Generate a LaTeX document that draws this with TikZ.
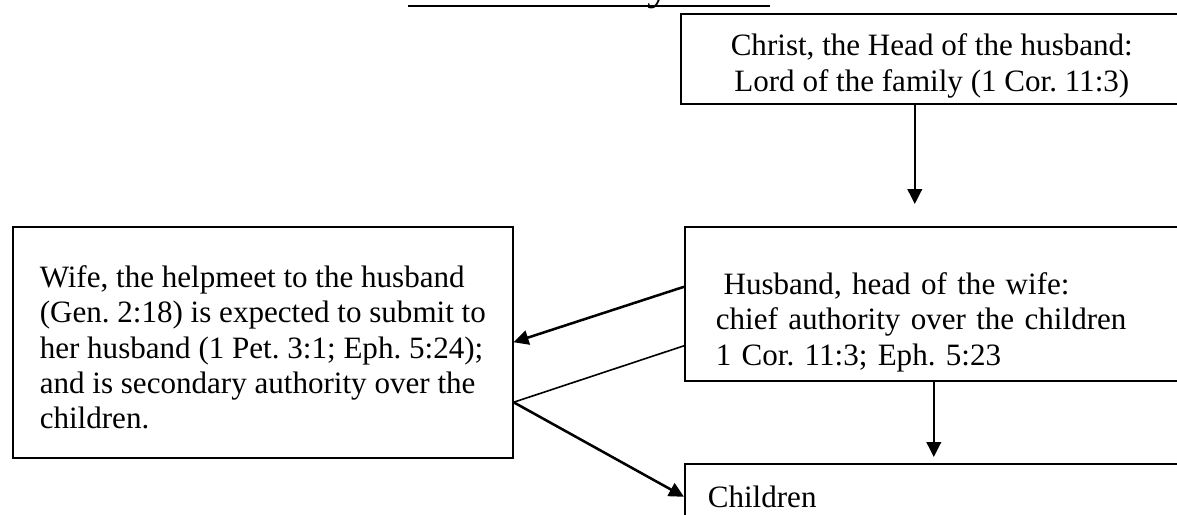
\documentclass[tikz,border=0pt]{standalone}
\usepackage{fontspec}
\setmainfont{Liberation Serif}
\usetikzlibrary{arrows.meta}
\frenchspacing

\begin{document}
\begin{tikzpicture}[x=0.375pt,y=-0.375pt,
  box/.style={draw,line width=0.6pt,rectangle,anchor=north west,inner ysep=0pt,
    font=\fontsize{11.65pt}{13.3pt}\selectfont},
  arrow/.style={line width=0.95pt,-{Triangle[length=5.6pt,width=5.4pt]}}]
\useasboundingbox (0,0) rectangle (1177,515);

% title, only its foot shows
\node[anchor=base west,inner sep=0pt,font=\fontsize{18pt}{22pt}\selectfont] (title) at (408,-1) {God’s Family};
\draw[line width=0.9pt] ([shift={(0,7)}]title.base west) -- ++(362,0);

\node[box,minimum width=188.25pt,minimum height=33.75pt,align=center] (christ) at (680,13)
  {\rule{0pt}{13.5pt}Christ, the Head of the husband:\\Lord of the family (1 Cor. 11:3)};
\node[box,minimum width=186.75pt,minimum height=57.75pt,inner xsep=11.6pt,text width=163.5pt,align=left] (husband) at (684,226)
  {\rule{0pt}{22pt}\hspace*{0.25em}Husband, head of the wife:\\chief authority over the children\\1 Cor. 11:3; Eph. 5:23};
\node[box,minimum width=187.5pt,minimum height=86.6pt,align=left] (wife) at (12,226)
  {\rule{0pt}{12pt}Wife, the helpmeet to the husband\\(Gen. 2:18) is expected to submit to\\her husband (1 Pet. 3:1; Eph. 5:24);\\and is secondary authority over the\\children.};
\node[box,minimum width=186.75pt,minimum height=24.75pt,inner xsep=8.6pt,text width=169.5pt,align=left] (children) at (684,463)
  {Children};

\draw[arrow] ([shift={(-17,0)}]christ.south) -- ([shift={(-19,-22)}]husband.north);
\draw[arrow] ([shift={(0,-17)}]husband.west) -- (wife.east);
\draw[line width=0.6pt] ([shift={(0,42)}]husband.west) -- ([shift={(0,60)}]wife.east);
\draw[arrow] ([shift={(0,60)}]wife.east) -- (children.west);
\draw[arrow] (husband.south) -- ([shift={(0,-6)}]children.north);

\end{tikzpicture}
\end{document}
